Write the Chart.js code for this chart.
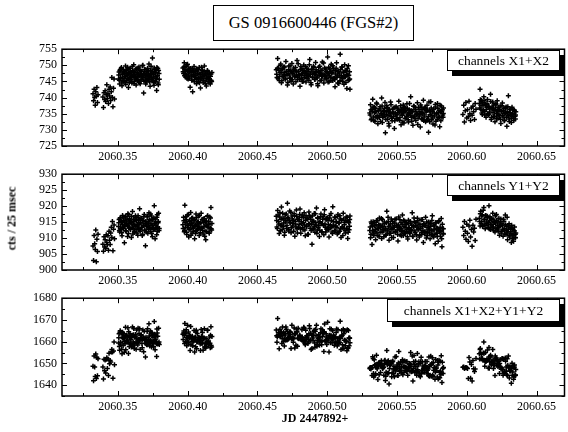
<!DOCTYPE html>
<html><head><meta charset="utf-8">
<script src="https://cdn.jsdelivr.net/npm/chart.js@4/dist/chart.umd.min.js"></script>
<style>
html,body{margin:0;padding:0;background:#fff;width:568px;height:432px;overflow:hidden;position:relative;font-family:"Liberation Serif","Times New Roman",serif;color:#000;}
canvas{position:absolute;left:0;}
.box{position:absolute;box-sizing:border-box;background:#fff;border:1px solid #000;text-align:center;white-space:nowrap;}
.leg{box-shadow:5px 5px 0 #000;font-size:13.5px;}
.lab{position:absolute;font-weight:bold;font-size:12px;white-space:nowrap;text-align:center;}
</style></head>
<body>
<div class="box" style="left:213px;top:5px;width:201px;height:36px;line-height:34px;font-size:16.5px;">GS 0916600446 (FGS#2)</div>
<canvas id="c1" width="570" height="129" style="top:37px"></canvas>
<canvas id="c2" width="570" height="128" style="top:162px"></canvas>
<canvas id="c3" width="570" height="130" style="top:286px"></canvas>
<div class="box leg" style="left:447px;top:50px;width:113px;height:21px;line-height:19px;">channels X1+X2</div>
<div class="box leg" style="left:447px;top:175px;width:113px;height:21px;line-height:19px;">channels Y1+Y2</div>
<div class="box leg" style="left:387px;top:299px;width:173px;height:23px;line-height:21px;">channels X1+X2+Y1+Y2</div>
<div class="lab" style="left:-48px;top:211px;width:120px;transform:rotate(-90deg);">cts / 25 msec</div>
<div class="lab" style="left:255px;top:411px;width:120px;">JD 2447892+</div>
<script>
const time = [
2060.3322,2060.3326,2060.3330,2060.3334,2060.3338,2060.3342,2060.3346,2060.3350,2060.3354,2060.3358,
2060.3393,2060.3397,2060.3401,2060.3405,2060.3409,2060.3413,2060.3417,2060.3421,2060.3425,2060.3429,2060.3433,2060.3437,2060.3441,2060.3445,2060.3449,2060.3453,2060.3457,2060.3461,2060.3465,2060.3469,2060.3473,2060.3476,
2060.3505,2060.3509,2060.3513,2060.3517,2060.3521,2060.3526,2060.3530,2060.3534,2060.3538,2060.3542,2060.3547,2060.3551,2060.3555,2060.3559,2060.3563,2060.3568,2060.3572,2060.3576,2060.3580,2060.3584,2060.3589,2060.3593,2060.3597,2060.3601,2060.3605,2060.3610,2060.3614,2060.3618,2060.3622,2060.3626,2060.3631,2060.3635,2060.3639,2060.3643,2060.3647,2060.3652,2060.3656,2060.3660,2060.3664,2060.3668,2060.3673,2060.3677,2060.3681,2060.3685,2060.3689,2060.3694,2060.3698,2060.3702,2060.3706,2060.3710,2060.3715,2060.3719,2060.3723,2060.3727,2060.3731,2060.3736,2060.3740,2060.3744,2060.3748,2060.3752,2060.3757,2060.3761,2060.3765,2060.3769,2060.3773,2060.3778,2060.3782,2060.3786,2060.3790,2060.3795,
2060.3966,2060.3971,2060.3976,2060.3980,2060.3985,2060.3990,2060.3994,2060.3999,2060.4004,2060.4008,2060.4013,2060.4018,2060.4022,2060.4027,2060.4032,2060.4036,2060.4041,2060.4046,2060.4050,2060.4055,2060.4060,2060.4064,2060.4069,2060.4074,2060.4078,2060.4083,2060.4088,2060.4092,2060.4097,2060.4102,2060.4106,2060.4111,2060.4116,2060.4120,2060.4125,2060.4130,2060.4134,2060.4139,2060.4144,2060.4148,2060.4153,2060.4158,2060.4162,2060.4167,2060.4172,
2060.4635,2060.4640,2060.4645,2060.4651,2060.4656,2060.4661,2060.4667,2060.4672,2060.4677,2060.4683,2060.4688,2060.4693,2060.4699,2060.4704,2060.4709,2060.4715,2060.4720,2060.4725,2060.4731,2060.4736,2060.4741,2060.4747,2060.4752,2060.4757,2060.4763,2060.4768,2060.4773,2060.4779,2060.4784,2060.4789,2060.4795,2060.4800,2060.4805,2060.4811,2060.4816,2060.4821,2060.4827,2060.4832,2060.4837,2060.4843,2060.4848,2060.4853,2060.4859,2060.4864,2060.4869,2060.4875,2060.4880,2060.4885,2060.4891,2060.4896,2060.4901,2060.4907,2060.4912,2060.4917,2060.4923,2060.4928,2060.4933,2060.4939,2060.4944,2060.4949,2060.4955,2060.4960,2060.4965,2060.4971,2060.4976,2060.4981,2060.4987,2060.4992,2060.4997,2060.5003,2060.5008,2060.5013,2060.5019,2060.5024,2060.5029,2060.5035,2060.5040,2060.5045,2060.5051,2060.5056,2060.5061,2060.5067,2060.5072,2060.5077,2060.5083,2060.5088,2060.5093,2060.5099,2060.5104,2060.5109,2060.5115,2060.5120,2060.5125,2060.5131,2060.5136,2060.5141,2060.5147,2060.5152,2060.5157,2060.5163,
2060.5305,2060.5310,2060.5315,2060.5321,2060.5326,2060.5331,2060.5337,2060.5342,2060.5347,2060.5353,2060.5358,2060.5363,2060.5369,2060.5374,2060.5379,2060.5385,2060.5390,2060.5395,2060.5401,2060.5406,2060.5411,2060.5417,2060.5422,2060.5427,2060.5433,2060.5438,2060.5443,2060.5449,2060.5454,2060.5459,2060.5465,2060.5470,2060.5475,2060.5481,2060.5486,2060.5491,2060.5497,2060.5502,2060.5507,2060.5513,2060.5518,2060.5523,2060.5529,2060.5534,2060.5539,2060.5545,2060.5550,2060.5555,2060.5561,2060.5566,2060.5571,2060.5577,2060.5582,2060.5587,2060.5593,2060.5598,2060.5603,2060.5609,2060.5614,2060.5619,2060.5625,2060.5630,2060.5635,2060.5641,2060.5646,2060.5651,2060.5657,2060.5662,2060.5667,2060.5673,2060.5678,2060.5683,2060.5689,2060.5694,2060.5699,2060.5705,2060.5710,2060.5715,2060.5721,2060.5726,2060.5731,2060.5737,2060.5742,2060.5747,2060.5753,2060.5758,2060.5763,2060.5769,2060.5774,2060.5779,2060.5785,2060.5790,2060.5795,2060.5801,2060.5806,2060.5811,2060.5817,2060.5822,2060.5827,2060.5833,
2060.5972,2060.5978,2060.5983,2060.5989,2060.5994,2060.6000,2060.6005,2060.6011,2060.6016,2060.6022,2060.6027,2060.6033,2060.6038,2060.6044,2060.6049,2060.6055,2060.6060,2060.6066,
2060.6090,2060.6095,2060.6100,2060.6106,2060.6111,2060.6116,2060.6122,2060.6127,2060.6132,2060.6138,2060.6143,2060.6148,2060.6154,2060.6159,2060.6164,2060.6170,2060.6175,2060.6180,2060.6186,2060.6191,2060.6196,2060.6202,2060.6207,2060.6212,2060.6218,2060.6223,2060.6228,2060.6234,2060.6239,2060.6244,2060.6250,2060.6255,2060.6260,2060.6266,2060.6271,2060.6276,2060.6282,2060.6287,2060.6292,2060.6298,2060.6303,2060.6308,2060.6314,2060.6319,2060.6324,2060.6330,2060.6335,2060.6340,2060.6346,2060.6351,
2060.3507,2060.3511,2060.3515,2060.3519,2060.3523,2060.3528,2060.3532,2060.3536,2060.3540,2060.3545,2060.3549,2060.3553,2060.3557,2060.3561,2060.3566,2060.3570,2060.3574,2060.3578,2060.3582,2060.3587,2060.3591,2060.3595,2060.3599,2060.3603,2060.3608,2060.3612,2060.3616,2060.3620,2060.3624,2060.3629,2060.3633,2060.3637,2060.3641,2060.3645,2060.3650,2060.3654,2060.3658,2060.3662,2060.3666,2060.3671,2060.3675,2060.3679,2060.3683,2060.3687,2060.3692,2060.3696,2060.3700,2060.3704,2060.3708,2060.3713,2060.3717,2060.3721,2060.3725,2060.3729,2060.3734,2060.3738,2060.3742,2060.3746,2060.3750,2060.3755,2060.3759,2060.3763,2060.3767,2060.3771,2060.3776,2060.3780,2060.3784,2060.3788,2060.3792,2060.3797,
2060.3968,2060.3973,2060.3978,2060.3982,2060.3987,2060.3992,2060.3996,2060.4001,2060.4006,2060.4010,2060.4015,2060.4020,2060.4024,2060.4029,2060.4034,2060.4038,2060.4043,2060.4048,2060.4052,2060.4057,2060.4062,2060.4066,2060.4071,2060.4076,2060.4080,2060.4085,2060.4090,2060.4094,2060.4099,2060.4104,2060.4108,2060.4113,2060.4118,2060.4122,2060.4127,2060.4132,2060.4136,2060.4141,2060.4146,2060.4150,2060.4155,2060.4160,2060.4164,2060.4169,2060.4174,
2060.4638,2060.4643,2060.4648,2060.4654,2060.4659,2060.4664,2060.4670,2060.4675,2060.4680,2060.4686,2060.4691,2060.4696,2060.4702,2060.4707,2060.4712,2060.4718,2060.4723,2060.4728,2060.4734,2060.4739,2060.4744,2060.4750,2060.4755,2060.4760,2060.4766,2060.4771,2060.4776,2060.4782,2060.4787,2060.4792,2060.4798,2060.4803,2060.4808,2060.4814,2060.4819,2060.4824,2060.4830,2060.4835,2060.4840,2060.4846,2060.4851,2060.4856,2060.4862,2060.4867,2060.4872,2060.4878,2060.4883,2060.4888,2060.4894,2060.4899,2060.4904,2060.4910,2060.4915,2060.4920,2060.4926,2060.4931,2060.4936,2060.4942,2060.4947,2060.4952,2060.4958,2060.4963,2060.4968,2060.4974,2060.4979,2060.4984,2060.4990,2060.4995,2060.5000,2060.5006,2060.5011,2060.5016,2060.5022,2060.5027,2060.5032,2060.5038,2060.5043,2060.5048,2060.5054,2060.5059,2060.5064,2060.5070,2060.5075,2060.5080,2060.5086,2060.5091,2060.5096,2060.5102,2060.5107,2060.5112,2060.5118,2060.5123,2060.5128,2060.5134,2060.5139,2060.5144,2060.5150,2060.5155,2060.5160,2060.5161,
2060.5308,2060.5313,2060.5318,2060.5324,2060.5329,2060.5334,2060.5340,2060.5345,2060.5350,2060.5356,2060.5361,2060.5366,2060.5372,2060.5377,2060.5382,2060.5388,2060.5393,2060.5398,2060.5404,2060.5409,2060.5414,2060.5420,2060.5425,2060.5430,2060.5436,2060.5441,2060.5446,2060.5452,2060.5457,2060.5462,2060.5468,2060.5473,2060.5478,2060.5484,2060.5489,2060.5494,2060.5500,2060.5505,2060.5510,2060.5516,2060.5521,2060.5526,2060.5532,2060.5537,2060.5542,2060.5548,2060.5553,2060.5558,2060.5564,2060.5569,2060.5574,2060.5580,2060.5585,2060.5590,2060.5596,2060.5601,2060.5606,2060.5612,2060.5617,2060.5622,2060.5628,2060.5633,2060.5638,2060.5644,2060.5649,2060.5654,2060.5660,2060.5665,2060.5670,2060.5676,2060.5681,2060.5686,2060.5692,2060.5697,2060.5702,2060.5708,2060.5713,2060.5718,2060.5724,2060.5729,2060.5734,2060.5740,2060.5745,2060.5750,2060.5756,2060.5761,2060.5766,2060.5772,2060.5777,2060.5782,2060.5788,2060.5793,2060.5798,2060.5804,2060.5809,2060.5814,2060.5820,2060.5825,2060.5830,2060.5832,
2060.6092,2060.6097,2060.6102,2060.6108,2060.6113,2060.6118,2060.6124,2060.6129,2060.6134,2060.6140,2060.6145,2060.6150,2060.6156,2060.6161,2060.6166,2060.6172,2060.6177,2060.6182,2060.6188,2060.6193,2060.6198,2060.6204,2060.6209,2060.6214,2060.6220,2060.6225,2060.6230,2060.6236,2060.6241,2060.6246,2060.6252,2060.6257,2060.6262,2060.6268,2060.6273,2060.6278,2060.6284,2060.6289,2060.6294,2060.6300,2060.6305,2060.6310,2060.6316,2060.6321,2060.6326,2060.6332,2060.6337,2060.6342,2060.6348,2060.6349
];
const x1x2 = [
741.2,739.0,742.6,740.1,737.6,741.8,740.4,743.1,738.5,740.9,
740.2,736.9,741.5,739.4,742.1,738.8,740.9,744.0,739.7,741.3,738.2,742.6,740.5,743.3,739.1,741.8,746.2,740.0,737.2,742.9,745.8,739.6,
745.8,747.9,744.2,748.6,746.1,749.3,743.7,747.2,745.0,748.1,746.6,744.9,749.8,747.5,745.3,746.9,748.8,743.1,747.7,746.0,749.1,745.6,747.3,744.5,748.4,746.8,750.2,745.1,747.8,746.3,743.9,748.9,746.4,747.6,745.2,749.5,746.7,744.3,748.2,747.0,745.7,749.9,746.2,741.4,747.4,748.7,745.4,746.9,744.8,748.0,747.1,745.9,750.4,746.5,743.5,748.5,747.3,745.6,752.3,746.1,744.6,749.2,747.8,745.0,748.3,742.2,746.7,749.0,744.0,747.5,
749.2,747.5,750.8,748.1,746.4,749.7,747.0,750.3,745.8,748.6,747.9,743.2,749.0,746.7,748.4,741.8,747.2,749.6,745.5,748.0,746.9,744.3,748.8,747.4,745.1,749.3,746.2,743.0,747.8,745.9,748.5,744.7,746.8,749.8,745.3,747.6,743.6,746.4,748.2,744.9,747.1,745.6,744.2,747.3,745.0,
748.6,746.2,752.1,749.0,745.3,747.8,750.4,744.6,748.9,746.7,749.5,747.1,745.8,751.2,748.0,743.9,747.4,749.8,746.0,748.3,745.1,750.6,747.6,744.2,748.7,746.5,749.3,747.0,751.5,745.7,748.1,746.8,743.5,749.6,747.3,745.0,748.4,750.1,746.3,747.9,744.8,749.1,746.9,748.6,745.4,751.8,747.2,744.0,748.8,746.4,749.7,747.5,745.6,750.9,748.2,746.1,743.7,749.4,747.8,745.2,748.5,746.6,751.0,747.1,744.5,749.2,746.8,748.0,745.9,752.6,747.4,744.9,748.9,746.3,750.3,747.7,745.3,749.0,746.0,743.4,748.3,750.8,746.7,748.1,744.4,747.6,753.4,746.2,749.5,745.1,747.9,744.1,750.2,746.5,748.4,742.8,747.0,749.9,745.5,742.6,
735.2,737.8,733.1,736.4,739.5,734.0,736.9,732.6,735.7,738.3,734.4,731.9,736.1,733.8,737.2,735.0,739.9,732.3,735.6,734.2,736.7,729.1,734.8,737.5,733.3,736.0,731.2,735.4,738.6,734.1,732.8,736.5,735.1,730.4,737.0,734.6,733.5,736.8,735.3,738.9,733.0,735.9,731.6,736.3,734.5,737.7,732.1,735.8,736.6,733.7,738.1,734.9,732.4,736.2,735.0,740.3,733.9,735.5,731.4,737.3,734.3,736.9,732.9,735.2,738.4,733.6,736.4,734.7,730.9,737.1,735.4,733.2,739.2,734.0,736.7,732.5,735.9,737.6,733.4,729.3,736.1,734.8,738.7,733.1,735.6,731.8,736.5,734.3,737.9,732.7,735.1,738.2,733.8,736.0,731.0,735.7,737.4,733.9,734.6,736.8,
734.8,737.6,732.4,735.9,738.5,733.7,736.2,734.1,738.9,735.0,732.9,736.8,734.5,737.3,735.6,733.2,738.2,736.4,
738.2,742.6,736.4,739.1,734.8,737.5,740.3,735.6,738.0,733.9,736.9,739.4,734.7,737.2,735.5,741.0,733.2,736.6,738.6,734.1,736.0,732.5,737.8,735.1,739.0,733.6,736.3,734.4,737.4,732.0,735.8,738.3,734.0,736.7,733.0,735.3,737.1,731.1,734.9,740.6,733.4,736.2,734.5,732.3,737.0,735.0,733.7,736.1,734.2,735.6,
747.0,745.4,748.3,746.2,749.0,744.8,747.6,746.0,748.7,745.2,747.9,746.5,744.1,748.4,746.8,749.4,745.7,747.3,744.6,748.1,746.3,747.8,745.0,749.6,746.6,748.0,744.4,747.1,745.8,748.9,746.1,747.7,745.3,749.2,746.9,744.7,748.5,747.2,745.5,748.2,746.4,750.0,747.5,745.1,748.6,746.7,744.2,747.9,746.0,749.1,745.6,748.3,746.9,744.9,747.4,749.7,746.2,748.0,745.3,747.1,743.8,748.8,746.5,747.7,745.9,749.3,746.8,744.5,748.4,745.7,
748.0,749.5,746.8,748.7,747.3,750.1,745.9,748.3,747.0,749.2,746.1,748.5,747.7,745.4,749.0,746.6,748.2,744.9,747.9,746.3,748.9,745.7,747.5,746.0,748.6,744.6,747.2,745.8,749.4,746.5,747.0,745.2,748.1,746.9,744.3,747.4,745.9,748.4,746.2,745.0,747.6,744.8,746.6,745.3,747.8,
747.2,749.1,745.9,748.4,746.6,750.0,747.8,745.2,748.9,746.4,747.7,749.5,745.8,748.2,746.9,744.7,748.6,747.0,749.8,746.1,748.0,745.5,747.4,749.2,746.7,748.5,744.9,747.9,746.3,750.5,747.1,745.6,748.7,746.0,749.0,747.5,745.1,748.3,746.8,749.6,747.3,745.9,748.1,746.5,750.2,747.6,744.6,748.8,746.2,747.9,749.3,745.7,747.2,748.6,746.4,744.3,748.0,746.9,749.7,747.4,745.4,748.4,746.6,750.7,747.0,745.8,748.9,746.1,747.8,744.8,749.4,746.7,748.2,745.3,747.6,749.9,746.0,748.5,745.6,747.3,749.1,746.3,744.5,748.1,747.0,745.2,748.7,746.8,749.5,745.9,747.7,746.4,748.3,744.7,747.1,749.0,745.4,746.9,748.0,745.8,
734.6,736.2,733.4,735.8,737.1,732.9,735.3,736.7,734.0,738.0,733.7,735.9,734.3,736.5,732.6,735.1,737.4,733.9,736.0,734.8,738.5,733.2,735.6,736.9,734.4,732.0,736.3,735.0,737.8,733.6,735.5,734.1,736.8,732.8,735.2,737.2,734.7,733.3,736.1,735.7,733.8,737.5,734.9,736.4,732.4,735.4,737.0,733.5,735.9,734.2,736.6,733.1,735.3,738.2,734.5,736.0,732.7,735.8,734.0,737.3,733.6,736.2,734.8,735.1,731.7,736.9,734.3,735.6,737.7,733.4,735.0,736.4,732.9,734.6,737.0,735.5,733.0,736.1,734.1,738.6,732.5,735.7,736.8,734.4,733.7,736.3,735.2,731.5,737.1,734.9,733.2,736.7,735.4,734.0,737.6,732.8,735.8,736.2,733.9,735.1,
736.8,739.3,737.6,735.2,738.5,736.1,739.0,734.6,737.9,736.3,738.2,735.0,737.3,734.9,736.5,738.8,733.8,736.9,735.4,737.7,734.2,736.4,738.1,733.5,735.9,737.0,734.8,736.2,733.3,735.7,737.5,734.5,736.0,732.8,735.1,736.8,733.9,735.6,737.2,734.3,732.6,735.3,736.5,733.6,734.7,736.3,732.9,735.8,733.4,734.6
];
const y1y2 = [
907.5,903.0,910.8,908.2,906.4,912.5,902.6,909.6,905.8,911.2,
908.1,905.9,910.4,907.2,909.5,906.8,911.0,908.6,907.9,910.7,906.2,912.1,909.3,908.0,911.6,913.4,910.2,915.2,906.0,912.8,914.1,909.8,
913.6,915.8,911.9,916.4,912.8,914.9,910.7,917.1,913.2,915.5,908.5,914.1,916.8,912.3,915.0,913.7,917.6,911.4,914.6,916.1,912.9,915.3,910.2,914.4,918.3,913.0,915.9,911.8,914.2,917.0,912.6,916.5,913.9,910.9,915.7,914.3,919.2,912.1,914.8,916.2,913.4,911.2,915.6,914.0,917.4,912.5,907.6,915.1,913.8,916.7,911.5,914.7,917.9,913.3,915.4,912.0,916.9,914.5,910.4,915.9,913.1,920.1,912.7,916.0,914.1,911.0,917.3,913.5,915.2,912.4,
914.2,916.5,912.0,920.3,913.4,915.8,911.1,917.2,913.9,910.3,915.1,912.7,918.0,914.6,911.6,916.3,913.1,915.5,909.8,914.0,917.5,912.4,915.0,913.6,916.9,910.8,914.5,912.9,917.8,913.2,915.7,911.3,914.8,916.1,912.2,909.5,915.3,913.7,917.0,914.3,911.9,916.6,913.0,919.6,912.5,
916.8,913.5,918.6,915.2,911.4,917.9,914.0,919.7,912.6,916.1,914.7,910.9,917.3,915.6,913.0,920.9,916.4,912.2,918.5,914.9,911.7,916.9,913.8,915.5,917.6,910.6,914.4,918.8,912.9,916.0,913.3,915.8,919.1,911.5,914.6,917.2,912.7,916.5,914.1,910.7,917.0,913.6,915.9,911.2,918.2,914.3,916.6,912.4,908.1,915.3,913.1,917.7,911.8,914.8,919.4,912.5,916.2,913.9,910.5,915.1,917.5,912.0,914.5,916.7,911.0,918.9,913.4,915.7,912.8,916.3,914.2,910.3,917.1,913.2,915.4,911.9,919.8,914.0,912.3,916.4,913.7,915.0,911.3,917.4,914.7,912.1,916.0,910.2,915.6,913.5,917.8,912.9,914.9,911.6,916.6,913.0,909.9,915.2,912.6,916.9,
912.4,910.1,915.0,908.0,913.6,911.3,914.8,912.0,909.5,915.5,913.1,910.7,914.2,916.3,911.8,913.9,909.9,915.8,912.7,910.4,914.5,913.0,911.1,918.4,912.2,915.2,909.3,913.8,911.5,916.0,912.9,914.6,910.2,913.4,915.9,911.9,914.0,912.5,909.1,916.6,913.3,911.0,914.9,912.1,917.2,910.8,913.7,915.3,911.6,914.3,912.8,909.7,915.6,913.2,911.4,914.7,912.3,917.9,910.5,913.5,915.1,911.7,913.9,909.4,916.2,912.6,914.4,910.9,913.0,915.7,911.2,913.6,908.6,914.1,912.0,916.5,910.0,913.3,911.8,915.0,912.5,909.8,914.6,911.0,917.0,912.2,910.3,913.8,908.2,914.9,911.5,913.1,909.0,915.4,912.4,910.6,916.1,907.3,913.0,911.3,
913.4,910.8,915.2,912.1,909.6,914.3,911.5,908.9,913.8,915.6,910.3,912.7,907.4,914.0,911.9,913.1,909.2,915.9,
916.2,913.8,918.4,915.1,917.3,914.0,919.6,915.9,912.9,917.0,914.6,916.8,913.2,920.1,915.4,912.7,916.1,914.3,917.8,913.5,915.2,911.9,914.7,917.4,912.6,915.0,913.3,910.9,914.4,916.0,912.1,913.9,910.6,915.3,912.4,917.2,911.2,913.6,909.5,912.8,914.5,910.3,912.0,908.6,913.1,911.0,909.0,912.3,910.2,911.6,
914.8,912.4,916.0,913.5,915.3,911.7,914.2,916.6,912.9,915.0,913.8,916.3,912.2,914.6,915.8,910.5,914.0,917.3,913.2,915.6,912.7,914.9,916.8,913.4,911.3,915.2,914.1,912.0,916.4,913.7,915.5,911.6,914.3,917.0,913.0,915.9,912.5,914.7,916.1,913.3,910.8,915.4,913.9,916.7,912.3,914.5,915.1,911.9,913.6,916.9,914.4,912.8,915.7,913.1,917.5,914.0,911.4,915.8,913.9,912.6,916.2,914.6,909.8,915.0,913.3,916.5,912.1,914.8,917.8,913.0,
913.0,915.4,912.3,914.9,916.7,911.8,914.4,913.2,917.4,912.8,915.6,914.1,910.9,916.2,913.5,914.7,912.1,915.9,913.8,911.4,916.4,914.2,912.6,915.1,913.3,917.1,911.7,914.8,913.0,915.8,912.4,916.0,913.6,910.6,915.0,914.0,912.0,916.8,913.4,915.3,911.5,914.5,916.3,912.9,914.6,
915.5,913.0,917.2,914.4,916.6,912.3,915.9,914.0,917.8,913.6,916.1,911.8,915.0,917.5,913.9,916.3,912.7,915.4,914.8,918.1,913.2,916.0,914.6,912.1,917.0,915.2,913.5,916.8,911.6,915.7,914.2,917.4,912.9,915.1,916.5,913.3,914.9,917.9,912.5,915.6,913.8,916.2,911.1,914.5,917.1,913.1,915.8,914.3,916.9,912.8,915.3,913.7,917.6,914.1,911.5,916.4,913.4,915.0,912.4,916.7,914.6,912.0,915.9,913.9,917.3,914.4,911.9,916.1,913.0,915.5,912.6,916.3,914.0,917.7,913.6,911.4,915.2,913.8,916.6,912.2,915.1,913.3,916.8,911.7,914.7,917.0,912.9,915.6,913.5,910.8,916.0,914.2,912.3,915.4,913.1,916.5,911.8,914.8,913.7,915.8,
913.5,911.2,914.6,912.3,915.1,910.8,913.9,912.7,914.2,911.6,915.4,912.9,910.5,914.0,913.2,916.1,911.8,913.7,912.2,915.0,913.0,910.9,914.8,912.5,916.5,913.6,911.4,914.4,912.8,910.2,915.3,913.3,911.9,914.7,912.0,916.0,913.8,911.1,914.1,912.6,915.7,913.1,910.7,914.3,912.4,915.6,911.5,913.4,914.9,912.1,910.4,914.5,913.0,911.7,915.2,912.7,914.0,910.6,913.6,916.3,912.2,914.8,911.0,913.5,915.4,912.9,910.3,914.2,913.1,911.8,915.8,912.4,914.6,911.3,913.9,912.0,915.0,910.8,913.3,914.4,911.6,913.7,912.5,915.5,910.9,914.1,912.8,911.2,914.7,913.0,910.5,912.6,915.1,911.9,913.4,912.1,909.8,914.3,911.4,912.9,
915.2,917.6,914.5,916.9,913.6,918.7,915.7,914.1,917.1,915.0,913.9,916.4,914.8,912.9,916.7,914.2,915.8,913.4,916.0,912.3,914.9,917.0,913.1,915.6,914.0,912.1,916.2,913.7,915.1,911.6,914.6,912.7,915.9,913.0,911.3,914.2,912.5,916.5,911.9,913.8,910.7,913.2,911.4,914.0,909.8,912.6,910.9,913.5,911.2,910.1
];
const xySum = [
1648.7,1642.0,1653.4,1648.3,1644.0,1654.3,1643.0,1652.7,1644.3,1652.1,
1648.3,1642.8,1651.9,1646.6,1651.6,1645.6,1651.9,1652.6,1647.6,1652.0,1644.4,1654.7,1649.8,1651.3,1650.7,1655.2,1656.4,1655.2,1643.2,1655.7,1659.9,1649.4,
1659.4,1663.7,1656.1,1665.0,1658.9,1664.2,1654.4,1664.3,1658.2,1663.6,1655.1,1659.0,1666.6,1659.8,1660.3,1660.6,1666.4,1654.5,1662.3,1662.1,1662.0,1660.9,1657.5,1658.9,1666.7,1659.8,1666.1,1656.9,1662.0,1663.3,1656.5,1665.4,1660.3,1658.5,1660.9,1663.8,1665.9,1656.4,1663.0,1663.2,1659.1,1661.1,1661.8,1655.4,1664.8,1661.2,1653.0,1662.0,1658.6,1664.7,1658.6,1660.6,1668.3,1659.8,1658.9,1660.5,1664.2,1660.1,1662.7,1662.0,1657.7,1669.3,1660.5,1661.0,1662.4,1653.2,1664.0,1662.5,1659.2,1659.9,
1663.4,1664.0,1662.8,1668.4,1659.8,1665.5,1658.1,1667.5,1659.7,1658.9,1663.0,1655.9,1667.0,1661.3,1660.0,1658.1,1660.3,1665.1,1655.3,1662.0,1664.4,1656.7,1663.8,1661.0,1662.0,1660.1,1660.7,1655.9,1665.6,1659.1,1664.2,1656.0,1661.6,1665.9,1657.5,1657.1,1658.9,1660.1,1665.2,1659.2,1659.0,1662.2,1657.2,1666.9,1657.5,
1665.4,1659.7,1670.7,1664.2,1656.7,1665.7,1664.4,1664.3,1661.5,1662.8,1664.2,1658.0,1663.1,1666.8,1661.0,1664.8,1663.8,1662.0,1664.5,1663.2,1656.8,1667.5,1661.4,1659.7,1666.3,1657.1,1663.7,1665.8,1664.4,1661.7,1661.4,1662.6,1662.6,1661.1,1661.9,1662.2,1661.1,1666.6,1660.4,1658.6,1661.8,1662.7,1662.8,1659.8,1663.6,1666.1,1663.8,1656.4,1656.9,1661.7,1662.8,1665.2,1657.4,1665.7,1667.6,1658.6,1659.9,1663.3,1658.3,1660.3,1666.0,1658.6,1665.5,1663.8,1655.5,1668.1,1660.2,1663.7,1658.7,1668.9,1661.6,1655.2,1666.0,1659.5,1665.7,1659.6,1665.1,1663.0,1658.3,1659.8,1662.0,1665.8,1658.0,1665.5,1659.1,1659.7,1669.4,1656.4,1665.1,1658.6,1665.7,1657.0,1665.1,1658.1,1665.0,1655.8,1656.9,1665.1,1658.1,1659.5,
1647.6,1647.9,1648.1,1644.4,1653.1,1645.3,1651.7,1644.6,1645.2,1653.8,1647.5,1642.6,1650.3,1650.1,1649.0,1648.9,1649.8,1648.1,1648.3,1644.6,1651.2,1642.1,1645.9,1655.9,1645.5,1651.2,1640.5,1649.2,1650.1,1650.1,1645.7,1651.1,1645.3,1643.8,1652.9,1646.5,1647.5,1649.3,1644.4,1655.5,1646.3,1646.9,1646.5,1648.4,1651.7,1648.5,1645.8,1651.1,1648.2,1648.0,1650.9,1644.6,1648.0,1649.4,1646.4,1655.0,1646.2,1653.4,1641.9,1650.8,1649.4,1648.6,1646.8,1644.6,1654.6,1646.2,1650.8,1645.6,1643.9,1652.8,1646.6,1646.8,1647.8,1648.1,1648.7,1649.0,1645.9,1650.9,1645.2,1644.3,1648.6,1644.6,1653.3,1644.1,1652.6,1644.0,1646.8,1648.1,1646.1,1647.6,1646.6,1651.3,1642.8,1651.4,1643.4,1646.3,1653.5,1641.2,1647.6,1648.1,
1648.2,1648.4,1647.6,1648.0,1648.1,1648.0,1647.7,1643.0,1652.7,1650.6,1643.2,1649.5,1641.9,1651.3,1647.5,1646.3,1647.4,1652.3,
1654.4,1656.4,1654.8,1654.2,1652.1,1651.5,1659.9,1651.5,1650.9,1650.9,1651.5,1656.2,1647.9,1657.3,1650.9,1653.7,1649.3,1650.9,1656.4,1647.6,1651.2,1644.4,1652.5,1652.5,1651.6,1648.6,1649.6,1645.3,1651.8,1648.0,1647.9,1652.2,1644.6,1652.0,1645.4,1652.5,1648.3,1644.7,1644.4,1653.4,1647.9,1646.5,1646.5,1640.9,1650.1,1646.0,1642.7,1648.4,1644.4,1647.2,
1661.8,1657.8,1664.3,1659.7,1664.3,1656.5,1661.8,1662.6,1661.6,1660.2,1661.7,1662.8,1656.3,1663.0,1662.6,1659.9,1659.7,1664.6,1657.8,1663.7,1659.0,1662.7,1661.8,1663.0,1657.9,1663.2,1658.5,1659.1,1662.2,1662.6,1661.6,1659.3,1659.6,1666.2,1659.9,1660.6,1661.0,1661.9,1661.6,1661.5,1657.2,1665.4,1661.4,1661.8,1660.9,1661.2,1659.3,1659.8,1659.6,1666.0,1660.0,1661.1,1662.6,1658.0,1664.9,1663.7,1657.6,1663.8,1659.2,1659.7,1660.0,1663.4,1656.3,1662.7,1659.2,1665.8,1658.9,1659.3,1666.2,1658.7,
1661.0,1664.9,1659.1,1663.6,1664.0,1661.9,1660.3,1661.5,1664.4,1662.0,1661.7,1662.6,1658.6,1661.6,1662.5,1661.3,1660.3,1660.8,1661.7,1657.7,1665.3,1659.9,1660.1,1661.1,1661.9,1661.7,1658.9,1660.6,1662.4,1662.3,1659.4,1661.2,1661.7,1657.5,1659.3,1661.4,1657.9,1665.2,1659.6,1660.3,1659.1,1659.3,1662.9,1658.2,1662.4,
1662.7,1662.1,1663.1,1662.8,1663.2,1662.3,1663.7,1659.2,1666.7,1660.0,1663.8,1661.3,1660.8,1665.7,1660.8,1661.0,1661.3,1662.4,1664.6,1664.2,1661.2,1661.5,1662.0,1661.3,1663.7,1663.7,1658.4,1664.7,1657.9,1666.2,1661.3,1663.0,1661.6,1661.1,1665.5,1660.8,1660.0,1666.2,1659.3,1665.2,1661.1,1662.1,1659.2,1661.0,1667.3,1660.7,1660.4,1663.1,1663.1,1660.7,1664.6,1659.4,1664.8,1662.7,1657.9,1660.7,1661.4,1661.9,1662.1,1664.1,1660.0,1660.4,1662.5,1664.6,1664.3,1660.2,1660.8,1662.2,1660.8,1660.3,1662.0,1663.0,1662.2,1663.0,1661.2,1661.3,1661.2,1662.3,1662.2,1659.5,1664.2,1659.6,1661.3,1659.8,1661.7,1662.2,1661.6,1662.4,1663.0,1656.7,1663.7,1660.6,1660.6,1660.1,1660.2,1665.5,1657.2,1661.7,1661.7,1661.6,
1648.1,1647.4,1648.0,1648.1,1652.2,1643.7,1649.2,1649.4,1648.2,1649.6,1649.1,1648.8,1644.8,1650.5,1645.8,1651.2,1649.2,1647.6,1648.2,1649.8,1651.5,1644.1,1650.4,1649.4,1650.9,1645.6,1647.7,1649.4,1650.6,1643.8,1650.8,1647.4,1648.7,1647.5,1647.2,1653.2,1648.5,1644.4,1650.2,1648.3,1649.5,1650.6,1645.6,1650.7,1644.8,1651.0,1648.5,1646.9,1650.8,1646.3,1647.0,1647.6,1648.3,1649.9,1649.7,1648.7,1646.7,1646.4,1647.6,1653.6,1645.8,1651.0,1645.8,1648.6,1647.1,1649.8,1644.6,1649.8,1650.8,1645.2,1650.8,1648.8,1647.5,1645.9,1650.9,1647.5,1648.0,1646.9,1647.4,1653.0,1644.1,1649.4,1649.3,1649.9,1644.6,1650.4,1648.0,1642.7,1651.8,1647.9,1643.7,1649.3,1650.5,1645.9,1651.0,1644.9,1645.6,1650.5,1645.3,1648.0,
1652.0,1656.9,1652.1,1652.1,1652.1,1654.8,1654.7,1648.7,1655.0,1651.3,1652.1,1651.4,1652.1,1647.8,1653.2,1653.0,1649.6,1650.3,1651.4,1650.0,1649.1,1653.4,1651.2,1649.1,1649.9,1649.1,1651.0,1649.9,1648.4,1647.3,1652.1,1647.2,1651.9,1645.8,1646.4,1651.0,1646.4,1652.1,1649.1,1648.1,1643.3,1648.5,1647.9,1647.6,1644.5,1648.9,1643.8,1649.3,1644.6,1644.7
];
const xTicks = [2060.35, 2060.40, 2060.45, 2060.50, 2060.55, 2060.60, 2060.65];
const yTicksX = [725, 730, 735, 740, 745, 750, 755];
const yTicksY = [900, 905, 910, 915, 920, 925, 930];
const yTicksSum = [1640, 1650, 1660, 1670, 1680];

const FONT = {family: '"Liberation Serif","Times New Roman",serif', size: 12};

const framePlugin = {
  id: 'frame',
  afterDraw(chart) {
    const ctx = chart.ctx, a = chart.chartArea, sx = chart.scales.x, sy = chart.scales.y;
    ctx.save();
    ctx.strokeStyle = '#000';
    ctx.lineWidth = 1;
    const minorOf = (vals) => {
      const d = vals[1] - vals[0], out = [vals[0] - d / 2];
      vals.forEach(v => out.push(v + d / 2));
      return out;
    };
    const seg = (x1, y1, x2, y2) => { ctx.beginPath(); ctx.moveTo(x1, y1); ctx.lineTo(x2, y2); ctx.stroke(); };
    const xMaj = sx.ticks.map(t => t.value), yMaj = sy.ticks.map(t => t.value);
    const doX = (vals, len) => vals.forEach(v => {
      if (v < sx.min || v > sx.max) return;
      const p = Math.round(sx.getPixelForValue(v)) + 0.5;
      seg(p, a.bottom, p, a.bottom - len); seg(p, a.top, p, a.top + len);
    });
    const doY = (vals, len) => vals.forEach(v => {
      if (v < sy.min || v > sy.max) return;
      const p = Math.round(sy.getPixelForValue(v)) + 0.5;
      seg(a.left, p, a.left + len, p); seg(a.right, p, a.right - len, p);
    });
    doX(xMaj, 5); doX(minorOf(xMaj), 3);
    doY(yMaj, 5); doY(minorOf(yMaj), 3);
    ctx.lineWidth = 1.5;
    ctx.strokeRect(a.left, a.top, a.right - a.left, a.bottom - a.top);
    ctx.restore();
  }
};

function makePanel(id, values, ymin, ymax, yTicks) {
  const n = Math.min(time.length, values.length);
  const pts = [];
  for (let i = 0; i < n; i++) pts.push({x: time[i], y: values[i]});
  return new Chart(document.getElementById(id), {
    type: 'scatter',
    data: {datasets: [{data: pts, pointStyle: 'cross', pointRadius: 2.5, pointBorderWidth: 1.5,
      borderColor: '#000', backgroundColor: '#000', showLine: false}]},
    options: {
      responsive: false, animation: false, devicePixelRatio: 1,
      layout: {padding: {top: 8, left: 0, right: 0, bottom: 0}},
      plugins: {legend: {display: false}, tooltip: {enabled: false}},
      scales: {
        x: {type: 'linear', min: 2060.31, max: 2060.67,
          afterBuildTicks: s => { s.ticks = xTicks.map(v => ({value: v})); },
          afterFit: s => { s.height = 20; },
          grid: {display: false, drawTicks: false}, border: {display: false},
          ticks: {font: FONT, color: '#000', padding: 4, maxRotation: 0, autoSkip: false,
            callback: v => Number(v).toFixed(2)}},
        y: {type: 'linear', min: ymin, max: ymax,
          afterBuildTicks: s => { s.ticks = yTicks.map(v => ({value: v})); },
          afterFit: s => { s.width = 62; },
          grid: {display: false, drawTicks: false}, border: {display: false},
          ticks: {font: FONT, color: '#000', padding: 5, autoSkip: false,
            callback: v => String(v)}}
      }
    },
    plugins: [framePlugin]
  });
}

makePanel('c1', x1x2, 725, 755, yTicksX);
makePanel('c2', y1y2, 900, 930, yTicksY);
makePanel('c3', xySum, 1635, 1680, yTicksSum);
</script>
</body></html>
